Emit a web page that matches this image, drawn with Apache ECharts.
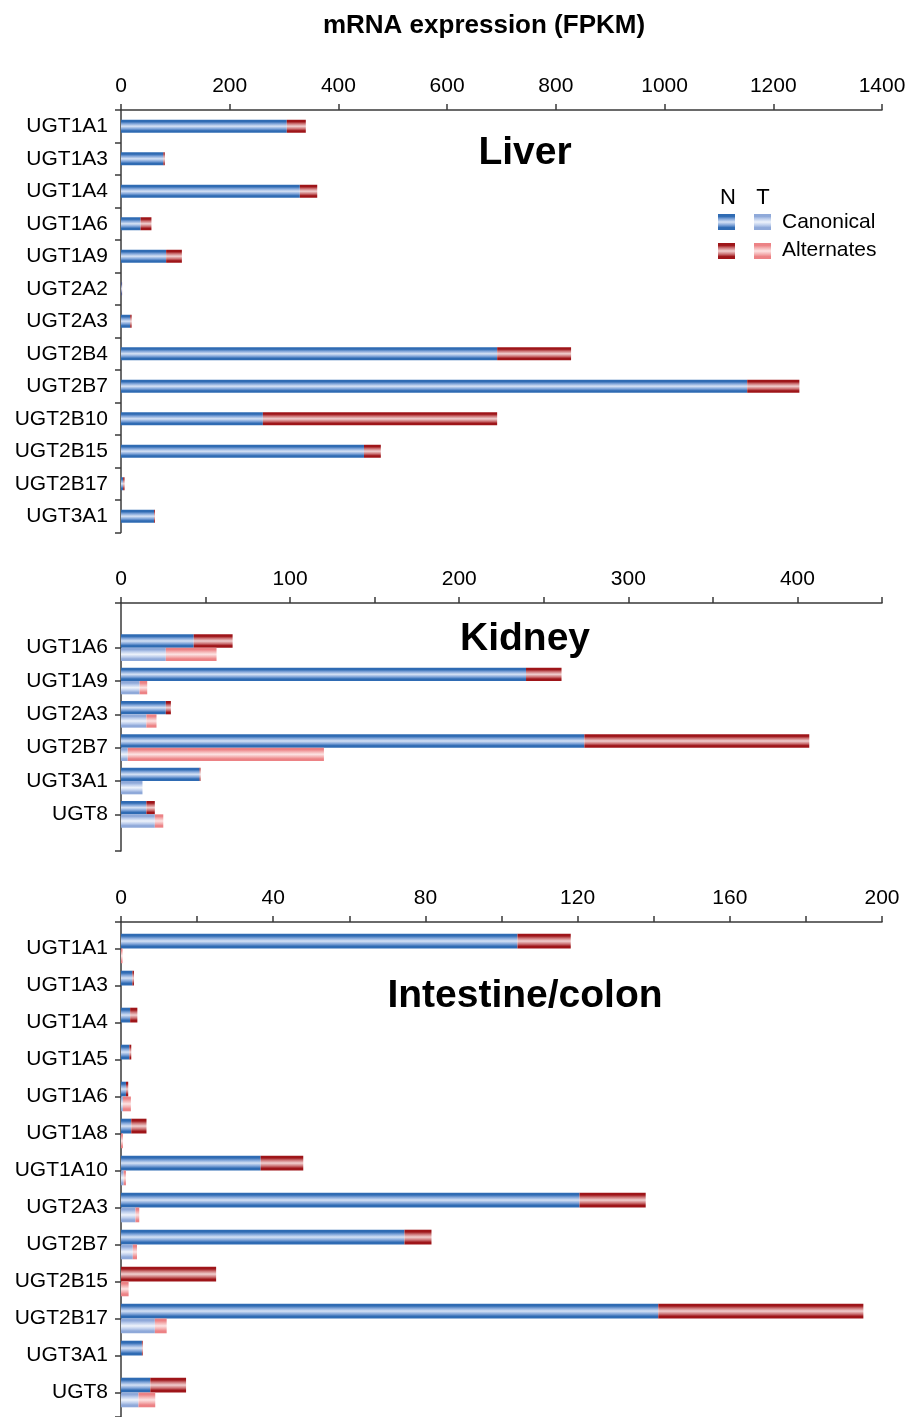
<!DOCTYPE html>
<html>
<head>
<meta charset="utf-8">
<script src="https://cdn.jsdelivr.net/npm/echarts@6/dist/echarts.min.js"></script>
<style>
  html, body { margin: 0; padding: 0; background: #fff; }
  #chart { width: 911px; height: 1417px; }
</style>
</head>
<body>
<div id="chart"></div>
<script>
// ---- Liver (normal tissue only) ----
const liverGenes = ['UGT1A1', 'UGT1A3', 'UGT1A4', 'UGT1A6', 'UGT1A9', 'UGT2A2', 'UGT2A3',
                    'UGT2B4', 'UGT2B7', 'UGT2B10', 'UGT2B15', 'UGT2B17', 'UGT3A1'];
const liverCanonical  = [305, 78, 329, 36, 83, 1.5, 17, 692, 1152, 261, 447, 4, 61];
const liverAlternates = [35, 2.5, 32, 20, 29, 0.5, 2.5, 136, 96, 431, 31, 2.5, 1.5];

// ---- Kidney (N = normal, T = tumour) ----
const kidneyGenes = ['UGT1A6', 'UGT1A9', 'UGT2A3', 'UGT2B7', 'UGT3A1', 'UGT8'];
const kidneyNCanonical  = [43, 239.5, 26.5, 274, 46.5, 15];
const kidneyNAlternates = [23, 21, 3, 133, 0.5, 5];
const kidneyTCanonical  = [26.5, 11, 15, 4, 12.7, 20];
const kidneyTAlternates = [30, 4.5, 6, 116, 0, 5];

// ---- Intestine / colon ----
const intestineGenes = ['UGT1A1', 'UGT1A3', 'UGT1A4', 'UGT1A5', 'UGT1A6', 'UGT1A8', 'UGT1A10',
                        'UGT2A3', 'UGT2B7', 'UGT2B15', 'UGT2B17', 'UGT3A1', 'UGT8'];
const intestineNCanonical  = [104.2, 3.0, 2.4, 2.2, 1.3, 2.7, 36.7, 120.5, 74.5, 0, 141.2, 5.5, 7.7];
const intestineNAlternates = [14, 0.4, 1.9, 0.5, 0.6, 4.0, 11.2, 17.4, 7.1, 25, 53.9, 0.2, 9.4];
const intestineTCanonical  = [0, 0, 0, 0, 0.5, 0, 0.7, 3.8, 3.1, 0, 8.9, 0, 4.6];
const intestineTAlternates = [0.4, 0, 0, 0, 2.1, 0.5, 0.6, 1.0, 1.1, 2.0, 3.1, 0, 4.4];

// axis tick values
const liverTicks = { max: 1400, step: 200, labelStep: 200 };
const kidneyTicks = { max: 450, step: 50, labelStep: 100 };
const intestineTicks = { max: 200, step: 20, labelStep: 40 };

const FONT = "'Liberation Sans', Arial, sans-serif";
const AXIS_COLOR = '#3a3a3a';

// horizontal banded fill: dark edges, pale centre
function stripe(edge, mid, center) {
  return new echarts.graphic.LinearGradient(0, 0, 0, 1, [
    { offset: 0, color: edge },
    { offset: 0.15, color: edge },
    { offset: 0.3, color: mid },
    { offset: 0.5, color: center },
    { offset: 0.7, color: mid },
    { offset: 0.85, color: edge },
    { offset: 1, color: edge }
  ]);
}
const fillN_can = () => stripe('#2f6bb3', '#7ea3d8', '#d6e2f5');
const fillN_alt = () => stripe('#9e1519', '#cb7173', '#f1d0d0');
const fillT_can = () => stripe('#8fa9d9', '#bccdec', '#eef3fb');
const fillT_alt = () => stripe('#ec8285', '#f4afb0', '#fde3e3');

const L = 121, W = 761;

function topAxis(grid, t) {
  return {
    type: 'value', gridIndex: grid, position: 'top', min: 0, max: t.max, interval: t.step,
    axisLine: { show: true, onZero: false, lineStyle: { color: AXIS_COLOR, width: 1.5 } },
    axisTick: { show: true, inside: false, length: 6, lineStyle: { color: AXIS_COLOR, width: 1.5 } },
    axisLabel: {
      show: true, margin: 13, color: '#000', fontFamily: FONT, fontSize: 21,
      formatter: v => (v % t.labelStep === 0 ? String(v) : '')
    },
    splitLine: { show: false }
  };
}
function hiddenX(grid, t) {
  return { type: 'value', gridIndex: grid, min: 0, max: t.max, show: false, splitLine: { show: false } };
}
// plain y axis line (with end ticks) framing a panel
function frameY(grid) {
  return {
    type: 'value', gridIndex: grid, min: 0, max: 1, interval: 1, inverse: true,
    axisLine: { show: true, onZero: false, lineStyle: { color: AXIS_COLOR, width: 1.5 } },
    axisTick: { show: true, length: 6, lineStyle: { color: AXIS_COLOR, width: 1.5 } },
    axisLabel: { show: false }, splitLine: { show: false }
  };
}
function catY(grid, cats, showLine, align) {
  return {
    type: 'category', gridIndex: grid, data: cats, inverse: true,
    axisLine: { show: showLine, onZero: false, lineStyle: { color: AXIS_COLOR, width: 1.5 } },
    axisTick: { show: true, alignWithLabel: align, length: 6, lineStyle: { color: AXIS_COLOR, width: 1.5 } },
    axisLabel: { margin: 13, color: '#000', fontFamily: FONT, fontSize: 21 },
    splitLine: { show: false }
  };
}
function bar(name, stack, x, y, data, fill, width) {
  const s = {
    name: name, type: 'bar', stack: stack, xAxisIndex: x, yAxisIndex: y, data: data,
    itemStyle: { color: fill() }, silent: true
  };
  if (width) s.barWidth = width;
  else { s.barGap = '0%'; s.barCategoryGap = '20%'; }
  return s;
}

const titleStyle = { fill: '#000', fontFamily: FONT, fontWeight: 'bold', fontSize: 39 };
const legendText = { fill: '#000', fontFamily: FONT, fontSize: 21 };

const option = {
  animation: false,
  backgroundColor: '#fff',
  grid: [
    { left: L, width: W, top: 110, height: 422.5 },   // liver
    { left: L, width: W, top: 603, height: 248 },     // kidney frame
    { left: L, width: W, top: 631, height: 200 },     // kidney bars
    { left: L, width: W, top: 922, bottom: 0 },       // intestine frame
    { left: L, width: W, top: 930, height: 481 }      // intestine bars
  ],
  xAxis: [
    topAxis(0, liverTicks),
    topAxis(1, kidneyTicks),
    hiddenX(2, kidneyTicks),
    topAxis(3, intestineTicks),
    hiddenX(4, intestineTicks)
  ],
  yAxis: [
    catY(0, liverGenes, true, false),
    frameY(1),
    catY(2, kidneyGenes, false, true),
    frameY(3),
    catY(4, intestineGenes, false, true)
  ],
  series: [
    bar('Liver N canonical', 'liver', 0, 0, liverCanonical, fillN_can, '40%'),
    bar('Liver N alternates', 'liver', 0, 0, liverAlternates, fillN_alt, '40%'),

    bar('Kidney N canonical', 'kN', 2, 2, kidneyNCanonical, fillN_can),
    bar('Kidney N alternates', 'kN', 2, 2, kidneyNAlternates, fillN_alt),
    bar('Kidney T canonical', 'kT', 2, 2, kidneyTCanonical, fillT_can),
    bar('Kidney T alternates', 'kT', 2, 2, kidneyTAlternates, fillT_alt),

    bar('Intestine N canonical', 'iN', 4, 4, intestineNCanonical, fillN_can),
    bar('Intestine N alternates', 'iN', 4, 4, intestineNAlternates, fillN_alt),
    bar('Intestine T canonical', 'iT', 4, 4, intestineTCanonical, fillT_can),
    bar('Intestine T alternates', 'iT', 4, 4, intestineTAlternates, fillT_alt)
  ],
  graphic: [
    { type: 'text', x: 484, y: 26, style: { text: 'mRNA expression (FPKM)', fill: '#000', align: 'center',
      verticalAlign: 'middle', fontFamily: FONT, fontWeight: 'bold', fontSize: 26 } },
    { type: 'text', x: 525, y: 153, style: Object.assign({ text: 'Liver', align: 'center', verticalAlign: 'middle' }, titleStyle) },
    { type: 'text', x: 525, y: 639, style: Object.assign({ text: 'Kidney', align: 'center', verticalAlign: 'middle' }, titleStyle) },
    { type: 'text', x: 525, y: 996, style: Object.assign({ text: 'Intestine/colon', align: 'center', verticalAlign: 'middle' }, titleStyle) },

    // legend: N / T columns, Canonical / Alternates rows
    { type: 'text', x: 728, y: 198, style: { text: 'N', align: 'center', verticalAlign: 'middle', fontSize: 22, fill: '#000', fontFamily: FONT } },
    { type: 'text', x: 763, y: 198, style: { text: 'T', align: 'center', verticalAlign: 'middle', fontSize: 22, fill: '#000', fontFamily: FONT } },
    { type: 'rect', shape: { x: 718, y: 214, width: 17, height: 16 }, style: { fill: fillN_can() } },
    { type: 'rect', shape: { x: 754, y: 214, width: 17, height: 16 }, style: { fill: fillT_can() } },
    { type: 'rect', shape: { x: 718, y: 243, width: 17, height: 16 }, style: { fill: fillN_alt() } },
    { type: 'rect', shape: { x: 754, y: 243, width: 17, height: 16 }, style: { fill: fillT_alt() } },
    { type: 'text', x: 782, y: 222, style: Object.assign({ text: 'Canonical', verticalAlign: 'middle' }, legendText) },
    { type: 'text', x: 782, y: 250, style: Object.assign({ text: 'Alternates', verticalAlign: 'middle' }, legendText) }
  ]
};

const chart = echarts.init(document.getElementById('chart'), null, { renderer: 'canvas' });
chart.setOption(option);
</script>
</body>
</html>
